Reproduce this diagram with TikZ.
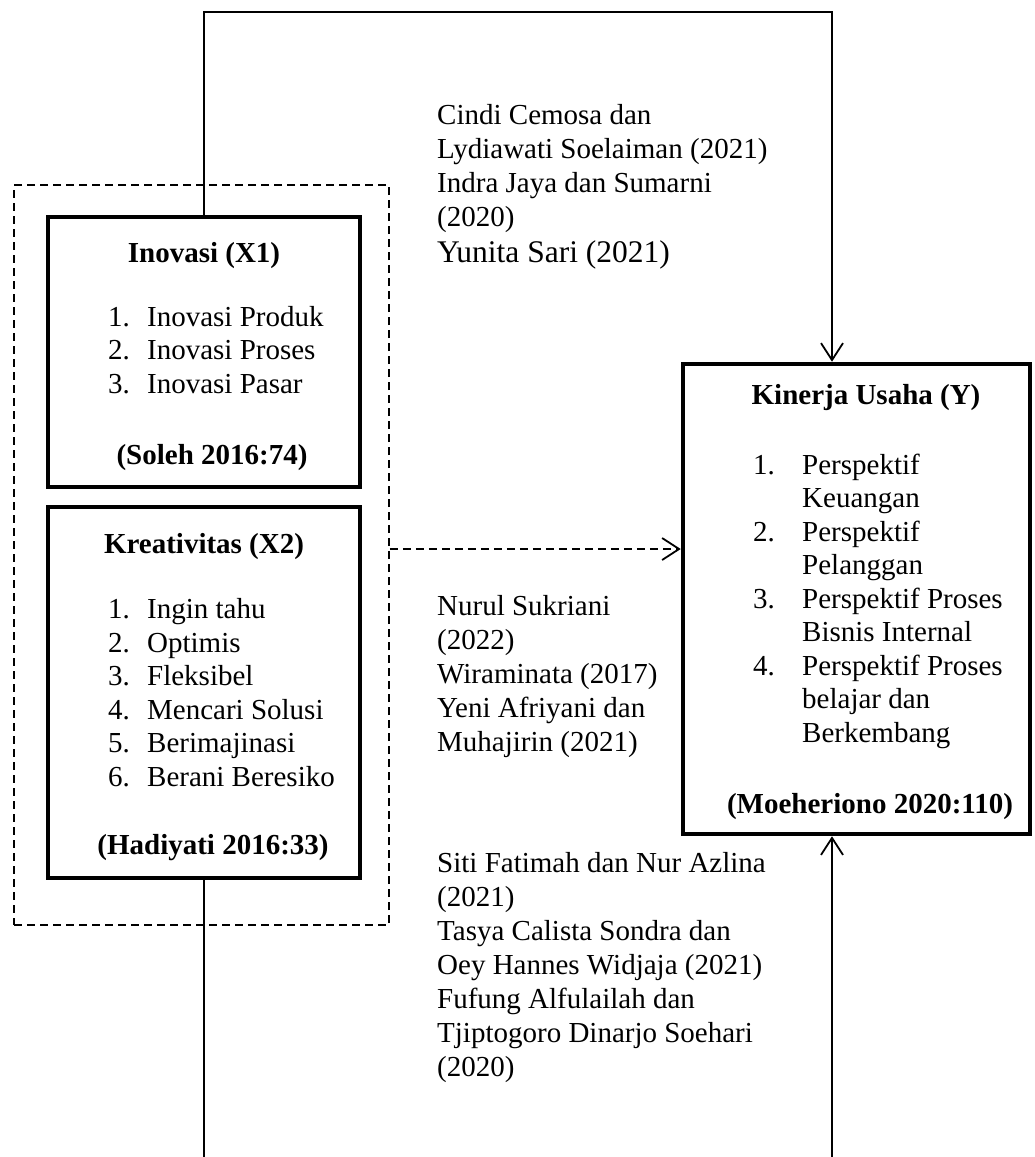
\documentclass[tikz,border=0pt]{standalone}
\usepackage{fontspec}
\setmainfont{Liberation Serif}
\usetikzlibrary{arrows.meta}
\begin{document}
\begin{tikzpicture}[x=1pt,y=-1pt,
  varbox/.style={draw, rectangle, line width=4.5pt, inner sep=0pt},
  grpbox/.style={draw, rectangle, line width=1.5pt, dash pattern=on 8pt off 5pt, inner sep=0pt},
  conn/.style={line width=1.8pt},
  tipv/.style={-{Straight Barb[length=17pt,width=22pt,line width=1.8pt]}},
  side/.style={anchor=base west, inner sep=0pt, font=\fontsize{29}{34}\selectfont},
  boxtxt/.style={anchor=base west, inner sep=0pt, font=\fontsize{29}{33.5}\selectfont},
  title/.style={anchor=base, inner sep=0pt, font=\fontsize{29}{33.5}\selectfont\bfseries}
]
\useasboundingbox (0,0) rectangle (1035,1157);

% group and variable boxes
\node[grpbox, minimum width=375pt, minimum height=740pt] (grp) at (201.5,555) {};
\node[varbox, minimum width=312pt, minimum height=270pt] (x1) at (204,352) {};
\node[varbox, minimum width=312pt, minimum height=371pt] (x2) at (204,692.5) {};
\node[varbox, minimum width=347pt, minimum height=470pt] (ky) at (856.5,599) {};

% Inovasi
\node[title] (x1t) at (204,262) {Inovasi (X1)};
\node[boxtxt] (x1l) at (108,326) {\begin{tabular}[t]{@{}l@{}}
\makebox[39pt][l]{1.}Inovasi Produk\\
\makebox[39pt][l]{2.}Inovasi Proses\\
\makebox[39pt][l]{3.}Inovasi Pasar
\end{tabular}};
\node[title] (x1s) at (212,464) {(Soleh 2016:74)};

% Kreativitas
\node[title] (x2t) at (204,553) {Kreativitas (X2)};
\node[boxtxt] (x2l) at (108,618.5) {\begin{tabular}[t]{@{}l@{}}
\makebox[39pt][l]{1.}Ingin tahu\\
\makebox[39pt][l]{2.}Optimis\\
\makebox[39pt][l]{3.}Fleksibel\\
\makebox[39pt][l]{4.}Mencari Solusi\\
\makebox[39pt][l]{5.}Berimajinasi\\
\makebox[39pt][l]{6.}Berani Beresiko
\end{tabular}};
\node[title] (x2s) at (213,854) {(Hadiyati 2016:33)};

% Kinerja
\node[title] (kyt) at (866,404) {Kinerja Usaha (Y)};
\node[boxtxt] (kyl) at (753,474) {\begin{tabular}[t]{@{}l@{}}
\makebox[49pt][l]{1.}Perspektif\\
\hspace*{49pt}Keuangan\\
\makebox[49pt][l]{2.}Perspektif\\
\hspace*{49pt}Pelanggan\\
\makebox[49pt][l]{3.}Perspektif Proses\\
\hspace*{49pt}Bisnis Internal\\
\makebox[49pt][l]{4.}Perspektif Proses\\
\hspace*{49pt}belajar dan\\
\hspace*{49pt}Berkembang
\end{tabular}};
\node[title] (kys) at (870,813) {(Moeheriono 2020:110)};

% side references
\node[side] (r1) at (437,124) {\begin{tabular}[t]{@{}l@{}}
Cindi Cemosa dan\\
Lydiawati Soelaiman (2021)\\
Indra Jaya dan Sumarni\\
(2020)
\end{tabular}};
\node[anchor=base west, inner sep=0pt, font=\fontsize{31.5}{36}\selectfont] (r1b) at (437,262) {Yunita Sari (2021)};

\node[side] (r2) at (437,615) {\begin{tabular}[t]{@{}l@{}}
Nurul Sukriani\\
(2022)\\
Wiraminata (2017)\\
Yeni Afriyani dan\\
Muhajirin (2021)
\end{tabular}};

\node[side] (r3) at (437,872) {\begin{tabular}[t]{@{}l@{}}
Siti Fatimah dan Nur Azlina\\
(2021)\\
Tasya Calista Sondra dan\\
Oey Hannes Widjaja (2021)\\
Fufung Alfulailah dan\\
Tjiptogoro Dinarjo Soehari\\
(2020)
\end{tabular}};

% connectors
\coordinate (tl) at (204,12);
\coordinate (tr) at (832,12);
\coordinate (bl) at (204,1166);
\coordinate (br) at (832,1166);
\coordinate (da) at (0,549);
\draw[conn, tipv, line join=miter] (x1.north) -- (tl) -- (tr) -- (ky.north -| tr);
\draw[conn, tipv, line join=miter] (x2.south) -- (bl) -- (br) -- (ky.south -| br);
\draw[conn, tipv, dash pattern=on 8pt off 5pt] (grp.east |- da) -- (ky.west |- da);
\end{tikzpicture}
\end{document}
